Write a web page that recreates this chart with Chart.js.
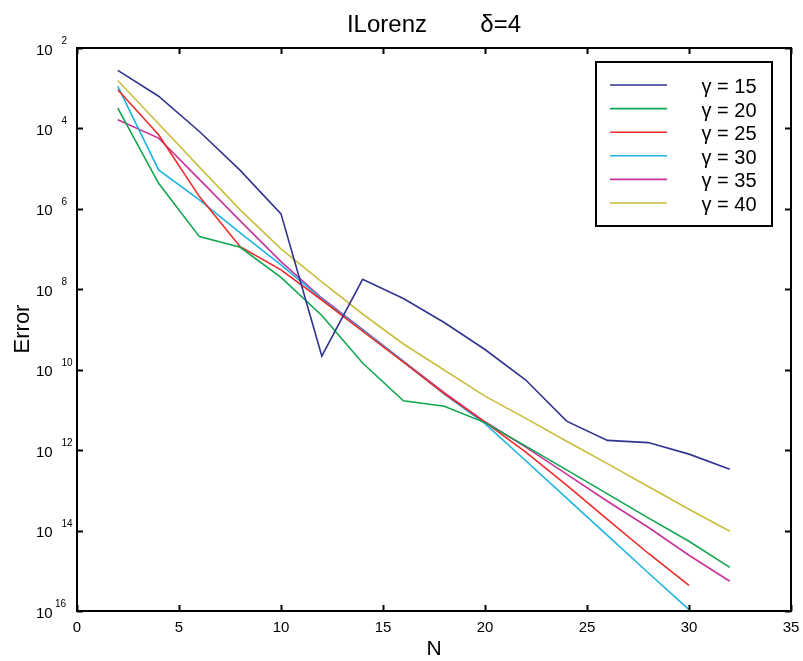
<!DOCTYPE html>
<html>
<head>
<meta charset="utf-8">
<script src="https://cdn.jsdelivr.net/npm/chart.js@4.4.0/dist/chart.umd.min.js"></script>
<style>
  body { margin:0; background:#fff; }
  canvas { display:block; }
</style>
</head>
<body>
<canvas id="errChart" width="803" height="661"></canvas>
<script>
// N values (even orders)
var nFull = [2,4,6,8,10,12,14,16,18,20,22,24,26,28,30,32]
var nTo30 = [2,4,6,8,10,12,14,16,18,20,22,24,26,28,30]

// error values
var err15 = [2.77e-3,6.31e-4,8.39e-5,9.08e-6,7.50e-7,2.19e-10,1.77e-8,5.91e-9,1.49e-9,3.18e-10,5.53e-11,5.27e-12,1.75e-12,1.54e-12,7.96e-13,3.37e-13]
var err20 = [3.21e-4,4.31e-6,2.04e-7,1.11e-7,1.97e-8,2.23e-9,1.47e-10,1.69e-11,1.24e-11,4.84e-12,1.26e-12,3.24e-13,8.17e-14,2.07e-14,5.43e-15,1.22e-15]
var err25 = [9.16e-4,6.95e-5,2.02e-6,1.15e-7,3.03e-8,5.42e-9,9.17e-10,1.55e-10,2.55e-11,4.98e-12,8.91e-13,1.35e-13,1.91e-14,2.73e-15,4.36e-16]
var err30 = [1.11e-3,9.33e-6,1.67e-6,2.52e-7,4.03e-8,5.74e-9,9.70e-10,1.60e-10,2.48e-11,4.57e-12,5.45e-13,6.43e-14,7.57e-15,8.93e-16,1.08e-16]
var err35 = [1.64e-4,5.75e-5,5.42e-6,5.02e-7,4.87e-8,6.08e-9,1.00e-9,1.64e-10,2.70e-11,5.07e-12,1.19e-12,2.53e-13,5.37e-14,1.21e-14,2.43e-15,5.48e-16]
var err40 = [1.56e-3,1.31e-4,1.09e-5,9.44e-7,1.01e-7,1.52e-8,2.43e-9,4.36e-10,9.82e-11,2.21e-11,6.15e-12,1.67e-12,4.61e-13,1.25e-13,3.40e-14,9.64e-15]

var seriesLabels = ['γ = 15','γ = 20','γ = 25','γ = 30','γ = 35','γ = 40']
var seriesColors = ['#31338F','#10A650','#EE2A2A','#1DB4E0','#C8339A','#C9BE3E']

// axis ticks
var xTicks = [0,5,10,15,20,25,30,35]
var yTickExps = [2,4,6,8,10,12,14,16]

var titleText = 'ILorenz        δ=4'
var xTitle = 'N'
var yTitle = 'Error'

function toPoints(xs, ys){
    var pts = []
    for(var i=0; i<ys.length; i++) pts.push({x:xs[i], y:ys[i]})
    return pts
}

var seriesX = [nFull, nFull, nTo30, nTo30, nFull, nFull]
var seriesY = [err15, err20, err25, err30, err35, err40]
var datasets = []
for(var i=0; i<seriesY.length; i++){
    datasets.push({
        label:seriesLabels[i],
        data:toPoints(seriesX[i], seriesY[i]),
        borderColor:seriesColors[i],
        backgroundColor:seriesColors[i],
        borderWidth:1.6,
        pointRadius:0,
        tension:0,
        fill:false
    })
}

var FONT = '"Liberation Sans", Arial, Helvetica, sans-serif'

// matlab style frame, inward ticks, superscript labels and boxed legend
var matlabAxes = {
    id:'matlabAxes',
    afterDraw:function(chart){
        var ctx = chart.ctx
        var a = chart.chartArea
        var xs = chart.scales.x
        var ys = chart.scales.y
        var tl = 6
        ctx.save()
        ctx.strokeStyle = '#000'
        ctx.lineWidth = 2
        ctx.strokeRect(a.left, a.top, a.right - a.left, a.bottom - a.top)

        ctx.beginPath()
        xTicks.forEach(function(v){
            var px = Math.round(xs.getPixelForValue(v)) + 0.5
            ctx.moveTo(px, a.bottom); ctx.lineTo(px, a.bottom - tl)
            ctx.moveTo(px, a.top); ctx.lineTo(px, a.top + tl)
        })
        yTickExps.forEach(function(e){
            var py = Math.round(ys.getPixelForValue(Math.pow(10, -e))) + 0.5
            ctx.moveTo(a.left, py); ctx.lineTo(a.left + tl, py)
            ctx.moveTo(a.right, py); ctx.lineTo(a.right - tl, py)
        })
        ctx.stroke()

        ctx.fillStyle = '#000'
        ctx.font = '15px ' + FONT
        ctx.textAlign = 'center'
        ctx.textBaseline = 'alphabetic'
        xTicks.forEach(function(v){
            ctx.fillText(String(v), xs.getPixelForValue(v), a.bottom + 21)
        })

        yTickExps.forEach(function(e, i){
            var py = ys.getPixelForValue(Math.pow(10, -e))
            ctx.textAlign = 'left'
            ctx.font = '15px ' + FONT
            ctx.fillText('10', 36, py + 6.5)
            ctx.font = '10px ' + FONT
            var sx = (i == yTickExps.length - 1) ? 55 : 61.5
            ctx.fillText(String(e), sx, py - 4)
        })

        // titles
        var cx = (a.left + a.right) / 2
        ctx.textAlign = 'center'
        ctx.font = '24px ' + FONT
        ctx.fillText(titleText, cx, 31.5)
        ctx.font = '21px ' + FONT
        ctx.fillText(xTitle, cx, 655)
        ctx.save()
        ctx.translate(28.5, 329)
        ctx.rotate(-Math.PI / 2)
        ctx.font = '22px ' + FONT
        ctx.fillText(yTitle, 0, 0)
        ctx.restore()

        // legend
        var lx = 596, ly = 62, lw = 176, lh = 164
        ctx.fillStyle = '#fff'
        ctx.fillRect(lx, ly, lw, lh)
        ctx.strokeStyle = '#000'
        ctx.lineWidth = 2
        ctx.strokeRect(lx, ly, lw, lh)
        ctx.font = '20px ' + FONT
        ctx.textAlign = 'left'
        chart.data.datasets.forEach(function(ds, i){
            var ry = 85 + i * 23.6
            ctx.strokeStyle = ds.borderColor
            ctx.lineWidth = 1.6
            ctx.beginPath()
            ctx.moveTo(610, ry); ctx.lineTo(667, ry)
            ctx.stroke()
            ctx.fillStyle = '#000'
            ctx.fillText(ds.label, 701.5, ry + 8)
        })
        ctx.restore()
    }
}

var errChart = new Chart(document.getElementById('errChart'), {
    type:'line',
    data:{ datasets:datasets },
    options:{
        responsive:false,
        animation:false,
        devicePixelRatio:1,
        layout:{ padding:{ left:77, right:12, top:48, bottom:50 } },
        plugins:{
            legend:{ display:false },
            title:{ display:false },
            tooltip:{ enabled:false }
        },
        scales:{
            x:{ type:'linear', min:0, max:35, display:false },
            y:{ type:'logarithmic', min:1e-16, max:1e-2, display:false }
        }
    },
    plugins:[matlabAxes]
})
</script>
</body>
</html>
